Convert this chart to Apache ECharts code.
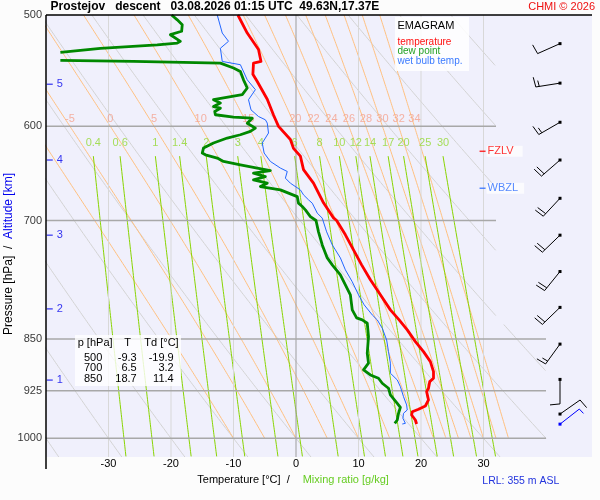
<!DOCTYPE html>
<html><head><meta charset="utf-8">
<script src="https://cdn.jsdelivr.net/npm/echarts@6/dist/echarts.min.js"></script>
<style>html,body{margin:0;padding:0;background:#fcfcfc}#c{width:600px;height:500px}</style>
</head><body><div id="c"></div><script>
// ---------------- data ----------------
const tempP = [500,515,529,539.5,541,551,557.5,574,589,600,613,622,630,644,658.5,680,697,700,716.6,734.5,752.7,771.4,790.6,810.3,823.7,837.3,853.5,867.6,881.9,896.5,906.3,911.3,921.2,926.4,939.1,948.4,953.5,957.3,962.5,970.4,976.8];
const tempT = [-9.3,-7.8,-6.0,-5.6,-6.8,-6.9,-6.2,-4.6,-3.6,-2.8,-0.9,-0.4,0.7,1.2,2.8,4.4,6.0,6.5,7.9,9.2,10.5,11.9,13.5,15.1,16.5,17.8,19.1,20.4,21.5,22.0,22.0,21.4,21.2,20.9,21.2,20.7,19.6,18.6,18.5,19.1,19.3];
const dewUpperP = [500,504,508,513.5,516.4,522,523.5,525,528,531.6];
const dewUpperT = [-19.9,-19.0,-18.2,-18.3,-20.1,-18.5,-19.0,-22.2,-31.3,-37.7];
const dewLowerP = [538.6,539.5,541,545.3,548.4,556,563.5,569.7,574.4,577.6,580.9,582.4,585.6,588.7,591,592,597,601.7,605,608.3,611.6,616.6,621.7,626.8,628.6,632,635.5,639,642.4,645,647.8,651.4,654.9,658.5,662.1,665.8,673.1,680.4,684.2,687.9,695.5,700,713.1,728.5,744.2,752.7,765.1,777.7,790.6,810.3,821,823.7,828.2,846.5,869.9,884.2,894,901.4,906.3,913.7,921.2,931.4,944.2,950.4,959.8,970.4,975.7];
const dewLowerT = [-37.7,-26.0,-12.1,-10.0,-8.9,-8.4,-7.8,-8.6,-13.2,-12.1,-13.2,-12.1,-13.0,-12.9,-10.0,-7.0,-7.8,-6.5,-7.3,-8.9,-11.0,-13.2,-14.8,-15.0,-14.5,-12.6,-11.6,-8.9,-6.2,-4.1,-6.8,-4.9,-6.8,-4.6,-5.7,-2.5,0.2,0.4,1.0,1.5,2.3,3.2,3.6,4.2,5.0,5.8,7.1,7.9,8.7,9.0,9.7,10.6,11.4,11.6,11.4,11.6,10.8,11.9,13.2,13.8,14.8,15.1,16.2,16.7,16.4,16.2,15.8];
const wbP = [500,515,522,528,539.5,542.4,556,565,574.4,584,590.4,593.6,596.8,606.6,616.6,626.8,635.5,642.4,646,653.1,658.5,665.8,671.2,676.7,680.4,691.6,697.3,713.1,728.5,744.2,758.9,773.9,790.6,803.6,817,823.7,835,851.2,867.6,884.2,898.8,908.8,918.8,934,946.8,954.6,959.8,967.7,975.7,976.8];
const wbT = [-12.6,-11.8,-10.8,-12.1,-11.8,-8.9,-7.8,-6.5,-7.6,-7.2,-6.0,-4.9,-4.6,-4.4,-5.4,-5.1,-4.1,-2.5,-1.4,-1.7,-0.9,0.7,1.2,2.0,2.6,3.4,4.2,4.9,5.8,7.1,7.9,9.0,10.0,10.9,12.2,13.0,13.8,14.5,14.8,15.1,15.1,16.2,16.7,17.2,17.7,17.8,17.2,17.1,17.5,17.0];

const windP   = [524,559,596,634,675,717,761,807,857,908,961];
const windDir = [246,261,240,229,223,226,219,226,216,180,55];
const windSpd = [10,15,15,20,20,20,20,20,15,10,10];
const sfcWindP = [977], sfcWindDir = [52], sfcWindSpd = [5];

const isotherms = [-30,-20,-10,0,10,20,30];
const isobars = [600,700,850,925,1000];
const pressureTicks = [500,600,700,850,925,1000];
const dryTheta = [-40,-30,-20,-10,0,10,20,30,40,50,60,70,80,90,100];
const moistThetaW = [-10,-5,0,5,10,15,20,22,24,26,28,30,32,34];
const mixRatios = [0.4,0.6,1,1.4,2,3,4,6,8,10,12,14,17,20,25,30];
const altKm = [1,2,3,4,5];
const altP  = [909,809,717,634,560];
const tableP = [500,700,850];
const tableT = [-9.3,6.5,18.7];
const tableTd = [-19.9,3.2,11.4];
const fzlvP = 625, wbzlP = 664;

// ---------------- helpers ----------------
const FONT = 'Liberation Sans, Arial, Helvetica, sans-serif';
const P_TOP = 500, P_BOT = 1031;
function limitT(p){ return p < 830 ? 32 : 40; }
function es(Tc){ return 6.112*Math.exp(17.67*Tc/(Tc+243.5)); }
function rsat(Tc,p){ const e=es(Tc); return 0.622*e/(p-e); }
function zip(P,T){ return P.map((p,i)=>[T[i],p]); }
function segs(pts){
  const out=[]; let cur=[];
  for(const [t,p] of pts){
    if(t<=limitT(p) && t>-60){ cur.push([t,p]); }
    else { if(cur.length>1) out.push(cur); cur=[]; }
  }
  if(cur.length>1) out.push(cur);
  return out;
}
function dryLine(th){
  const pts=[]; for(let p=P_TOP;p<=P_BOT;p+=1){ pts.push([(th+273.15)*Math.pow(p/1000,0.2857)-273.15,p]); } return pts;
}
function moistLine(tw){
  const f=(T,p)=>{ const r=rsat(T-273.15,p); return (287.04*T+2.501e6*r)/(p*(1005.7+2.501e6*2.501e6*r*0.622/(287.04*T*T))); };
  let T=tw+273.15, p=1000; const pts=[[tw,1000]];
  while(p>P_TOP+1e-6){ const dp=-1; const k1=f(T,p); const k2=f(T+k1*dp/2,p+dp/2); T+=k2*dp; p+=dp; pts.push([T-273.15,p]); }
  return pts.reverse();
}
function mixT(w,p){ const e=w*p/(622+w); const l=Math.log(e/6.112); return 243.5*l/(17.67-l); }
function mixLine(w){ const pts=[]; for(let p=630;p<=P_BOT;p+=2){ pts.push([mixT(w,p),p]); } return pts; }

const series=[];
function addLine(pts,color,width,z){
  series.push({type:'line',data:pts,xAxisIndex:0,yAxisIndex:0,symbol:'none',showSymbol:false,
    lineStyle:{color:color,width:width,join:'round'},silent:true,animation:false,clip:true,z:z});
}
// background families
dryTheta.forEach(th=>segs(dryLine(th)).forEach(s=>addLine(s,'#d3d3d3',1,1)));
const moistLabelData=[];
moistThetaW.forEach(tw=>{
  const pts=moistLine(tw);
  segs(pts).forEach(s=>addLine(s,'#ffc080',1,1));
  if(tw>=-5){ const q=pts.find(d=>Math.abs(d[1]-600)<0.6); moistLabelData.push({value:[q[0],600],name:String(tw)}); }
});
const mixLabelData=[];
mixRatios.forEach(w=>{ segs(mixLine(w)).forEach(s=>addLine(s,'#88d400',1,1)); mixLabelData.push({value:[mixT(w,630),630],name:String(w)}); });
// isotherms & isobars
isotherms.forEach(t=>addLine([[t,P_TOP],[t,P_BOT]], t===0?'#9c9c9c':'#d8d8d8', 1, 2));
isobars.forEach(p=>addLine([[-40,p],[limitT(p),p]],'#a8a8a8',1.5,2));

// labels
series.push({type:'scatter',data:moistLabelData,symbolSize:0,silent:true,animation:false,z:3,
  label:{show:true,position:'top',distance:2,formatter:d=>d.name,color:'#f5a08c',fontSize:11,fontFamily:FONT}});
series.push({type:'scatter',data:mixLabelData,symbolSize:0,silent:true,animation:false,z:3,
  label:{show:true,position:'top',distance:8,formatter:d=>d.name,color:'#92d830',fontSize:11,fontFamily:FONT}});
series.push({type:'scatter',data:pressureTicks.map(p=>({value:[-40,p],name:String(p)})),symbolSize:0,silent:true,animation:false,z:3,clip:false,
  label:{show:true,position:'left',distance:4,formatter:d=>d.name,color:'#000',fontSize:11,fontFamily:FONT}});
series.push({type:'scatter',data:altKm.map((k,i)=>({value:[-39.4,altP[i]],name:String(k)})),symbol:'rect',symbolSize:[6,1.2],
  itemStyle:{color:'#0000ee'},silent:true,animation:false,z:4,clip:false,
  label:{show:true,position:'right',distance:4,formatter:d=>d.name,color:'#0000ee',fontSize:11,fontFamily:FONT}});
series.push({type:'scatter',data:[{value:[29.85,fzlvP],name:'FZLV'}],symbol:'rect',symbolSize:[6,1.5],
  itemStyle:{color:'#ff0000'},silent:true,animation:false,z:4,clip:false,
  label:{show:true,position:'right',distance:1,formatter:d=>d.name,color:'#ff0000',fontSize:11,fontFamily:FONT,
    backgroundColor:'rgba(255,255,255,0.9)',padding:[0,9,0,1]}});
series.push({type:'scatter',data:[{value:[29.85,wbzlP],name:'WBZL'}],symbol:'rect',symbolSize:[6,1.5],
  itemStyle:{color:'#2a6cff'},silent:true,animation:false,z:4,clip:false,
  label:{show:true,position:'right',distance:1,formatter:d=>d.name,color:'#2a6cff',fontSize:11,fontFamily:FONT,
    backgroundColor:'rgba(255,255,255,0.9)',padding:[0,6,0,1]}});

// soundings
addLine(zip(wbP,wbT),'#2266ff',1,5);
addLine(zip(dewUpperP,dewUpperT),'#008800',2.8,6);
addLine(zip(dewLowerP,dewLowerT),'#008800',2.8,6);
addLine(zip(tempP,tempT),'#ff0000',2.8,7);

// wind barbs
function barb(params, api){
  const c=api.coord([api.value(0),api.value(1)]);
  const dir=api.value(2)*Math.PI/180, spd=api.value(3);
  const col=api.visual('color');
  const L=24.5, ux=Math.sin(dir), uy=-Math.cos(dir), px=-uy, py=ux;
  const ex=c[0]+L*ux, ey=c[1]+L*uy;
  const ln=(a,b,cc,d)=>({type:'line',shape:{x1:a,y1:b,x2:cc,y2:d},style:{stroke:col,lineWidth:1}});
  const ch=[ln(c[0],c[1],ex,ey),{type:'rect',shape:{x:c[0]-1.5,y:c[1]-1.5,width:3,height:3},style:{fill:col}}];
  const n10=Math.floor(spd/10), n5=(spd%10>=5)?1:0; let k=0;
  for(let i=0;i<n10;i++,k++){ const bx=ex-ux*k*3.5, by=ey-uy*k*3.5; ch.push(ln(bx,by,bx+px*10+ux*1,by+py*10+uy*1)); }
  for(let i=0;i<n5;i++,k++){ const bx=ex-ux*k*3.5, by=ey-uy*k*3.5; ch.push(ln(bx,by,bx+px*6+ux*0.6,by+py*6+uy*0.6)); }
  return {type:'group',children:ch};
}
series.push({type:'custom',xAxisIndex:1,yAxisIndex:1,renderItem:barb,color:'#000000',silent:true,animation:false,clip:false,z:5,
  data:windP.map((p,i)=>[14,p,windDir[i],windSpd[i]])});
series.push({type:'custom',xAxisIndex:1,yAxisIndex:1,renderItem:barb,color:'#0000ff',silent:true,animation:false,clip:false,z:5,
  data:sfcWindP.map((p,i)=>[14,p,sfcWindDir[i],sfcWindSpd[i]])});

// ---------------- text & frame ----------------
function txt(x,y,text,opt){
  opt=opt||{};
  return {type:'text',x:x,y:y,z:20,rotation:opt.rot||0,silent:true,style:Object.assign({text:text,x:0,y:0,
    font:(opt.weight||'normal')+' '+(opt.size||11)+'px '+FONT,fill:opt.color||'#000',
    align:opt.align||'left',textAlign:opt.align||'left',verticalAlign:'middle',textVerticalAlign:'middle'},opt.extra||{})};
}
const graphics=[
  {type:'line',z:20,silent:true,shape:{x1:46,y1:15,x2:592,y2:15},style:{stroke:'#000',lineWidth:1.5}},
  {type:'line',z:20,silent:true,shape:{x1:46,y1:15,x2:46,y2:469},style:{stroke:'#000',lineWidth:1.5}},
  txt(50.5,7,'Prostejov   descent   03.08.2026 01:15 UTC  49.63N,17.37E',{weight:'bold',size:12}),
  txt(595,7,'CHMI \u00a9 2026',{color:'#ee1111',size:11,align:'right'}),
  {type:'rect',z:19,silent:true,shape:{x:395,y:17,width:74,height:54},style:{fill:'rgba(255,255,255,0.85)'}},
  txt(397.5,25.5,'EMAGRAM',{size:11}),
  txt(397.5,42,'temperature',{size:10,color:'#ff1111'}),
  txt(397.5,51.7,'dew point',{size:10,color:'#22a022'}),
  txt(397.5,61.7,'wet bulb temp.',{size:10,color:'#3a7aff'}),
  {type:'rect',z:19,silent:true,shape:{x:75,y:335,width:106,height:51},style:{fill:'rgba(255,255,255,0.8)'}},
  txt(77.7,343,'p [hPa]'),
  txt(127.7,343,'T',{align:'center'}),
  txt(144.3,343,'Td [\u00b0C]'),
  txt(197.3,479.5,'Temperature [\u00b0C]  /'),
  txt(302.7,479.5,'Mixing ratio [g/kg]',{color:'#66cc22'}),
  txt(482.3,481,'LRL: 355 m ASL',{color:'#2233dd',size:10.5}),
  {type:'text',x:8.5,y:254,z:20,rotation:Math.PI/2,silent:true,style:{text:'{a|Pressure [hPa]  /  }{b|Altitude [km]}',x:0,y:0,
    align:'center',textAlign:'center',verticalAlign:'middle',textVerticalAlign:'middle',
    rich:{a:{fill:'#000',color:'#000',font:'12px '+FONT,fontSize:12,fontFamily:FONT},b:{fill:'#0000ee',color:'#0000ee',font:'12px '+FONT,fontSize:12,fontFamily:FONT}}}}
];
const rowY=[358.3,368.3,378.7];
tableP.forEach((p,i)=>{
  graphics.push(txt(102.3,rowY[i],String(p),{align:'right'}));
  graphics.push(txt(136.7,rowY[i],tableT[i].toFixed(1),{align:'right'}));
  graphics.push(txt(173.7,rowY[i],tableTd[i].toFixed(1),{align:'right'}));
});

const chart=echarts.init(document.getElementById('c'),null,{renderer:'canvas',width:600,height:500});
chart.setOption({
  animation:false,
  backgroundColor:'#fcfcfc',
  grid:[
    {left:46,top:15,width:500,height:442,show:true,backgroundColor:'#f0f0fc',borderWidth:0,containLabel:false,outerBoundsMode:'none'},
    {left:546,top:15,width:46,height:442,show:true,backgroundColor:'#f0f0fc',borderWidth:0,containLabel:false,outerBoundsMode:'none'}
  ],
  xAxis:[
    {type:'value',gridIndex:0,min:-40,max:40,interval:10,axisLine:{show:false},axisTick:{show:false},splitLine:{show:false},
      axisLabel:{margin:1,fontSize:11,color:'#000',fontFamily:FONT,showMinLabel:false,showMaxLabel:false,formatter:v=>(v<=-40||v>=40)?'':String(v)}},
    {type:'value',gridIndex:1,min:0,max:46,show:false}
  ],
  yAxis:[
    {type:'log',logBase:10,gridIndex:0,min:P_TOP,max:P_BOT,inverse:true,axisLine:{show:false},axisTick:{show:false},axisLabel:{show:false},splitLine:{show:false}},
    {type:'log',logBase:10,gridIndex:1,min:P_TOP,max:P_BOT,inverse:true,show:false,splitLine:{show:false}}
  ],
  series:series,
  graphic:graphics
});
</script></body></html>
